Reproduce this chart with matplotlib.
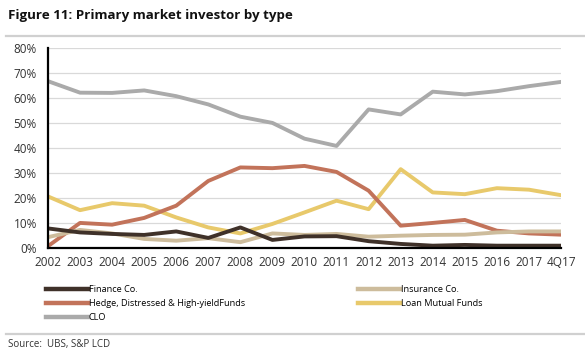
import matplotlib.pyplot as plt
from matplotlib.lines import Line2D
from matplotlib.ticker import PercentFormatter

plt.rcParams['font.family'] = ['Open Sans', 'DejaVu Sans']

periods = ["2002", "2003", "2004", "2005", "2006", "2007", "2008", "2009", "2010",
           "2011", "2012", "2013", "2014", "2015", "2016", "2017", "4Q17"]

finance = [7.8, 6.2, 5.6, 5.2, 6.6, 4.0, 8.2, 3.2, 4.6, 4.7, 2.7, 1.6, 0.9, 1.2, 0.9, 0.9, 0.9]
insurance = [4.3, 7.2, 5.8, 3.6, 2.9, 3.9, 2.3, 5.8, 5.2, 5.6, 4.5, 4.9, 5.2, 5.3, 6.2, 6.6, 6.6]
hedge = [0.7, 10.0, 9.3, 12.0, 16.9, 26.8, 32.2, 31.9, 32.8, 30.4, 22.9, 8.9, 10.0, 11.2, 6.9, 5.8, 5.3]
loan_mf = [20.6, 15.1, 17.9, 16.9, 12.2, 8.2, 5.8, 9.6, 14.2, 18.9, 15.5, 31.5, 22.2, 21.5, 23.9, 23.3, 21.1]
clo = [66.7, 62.1, 62.0, 63.0, 60.7, 57.4, 52.5, 50.0, 43.7, 40.8, 55.4, 53.4, 62.5, 61.4, 62.7, 64.7, 66.4]

series = [
    ("Finance Co.", finance, "#3f3129"),
    ("Insurance Co.", insurance, "#cdbc9c"),
    ("Hedge, Distressed & High-yieldFunds", hedge, "#c2735a"),
    ("Loan Mutual Funds", loan_mf, "#e8c96b"),
    ("CLO", clo, "#aaaaaa"),
]

fig = plt.figure(figsize=(5.85, 3.63), dpi=100)
ax = fig.add_axes([0.082, 0.317, 0.877, 0.551])

x = list(range(len(periods)))
lines = {}
for name, vals, col in series[::-1]:
    ln, = ax.plot(x, vals, color=col, lw=2.8, solid_capstyle="round", label=name)
    lines[name] = ln

ax.set_xlim(0, len(periods) - 1)
ax.set_ylim(0, 80)
ax.set_yticks(range(0, 81, 10))
ax.yaxis.set_major_formatter(PercentFormatter(decimals=0))
ax.set_xticks(x)
ax.set_xticklabels(periods)
ax.tick_params(axis="y", length=0, pad=8, labelsize=8.5, colors="#333333")
ax.tick_params(axis="x", length=0, pad=6, labelsize=8.5, colors="#333333")
ax.grid(axis="y", color="#d9d9d9", lw=0.9)
ax.set_axisbelow(True)
for s in ["top", "right"]:
    ax.spines[s].set_visible(False)
for s in ["left", "bottom"]:
    ax.spines[s].set_linewidth(1.6)
    ax.spines[s].set_color("black")
    ax.spines[s].set_zorder(5)

# legend fills column-wise, so reorder to get the row layout of the original
order = ["Finance Co.", "Hedge, Distressed & High-yieldFunds", "CLO",
         "Insurance Co.", "Loan Mutual Funds"]
handles = [Line2D([], [], color=lines[n].get_color(), lw=3.2) for n in order]
fig.legend(handles, order, loc="upper left", bbox_to_anchor=(0.072, 0.225),
           ncol=2, frameon=False, fontsize=6.6, handlelength=4.6, handletextpad=0.1,
           columnspacing=12.3, labelspacing=0.55, borderaxespad=0)

fig.text(0.014, 0.958, "Figure 11: Primary market investor by type", fontsize=9.6,
         fontweight="bold", va="center", color="#111111")
fig.add_artist(Line2D([0.01, 1.0], [0.901, 0.901], color="#d0d0d0", lw=1.6))
fig.add_artist(Line2D([0.01, 1.0], [0.08, 0.08], color="#d0d0d0", lw=1.6))
fig.text(0.014, 0.05, "Source:  UBS, S&P LCD", fontsize=7, va="center", color="#333333")

fig.savefig("out.png", dpi=100)
